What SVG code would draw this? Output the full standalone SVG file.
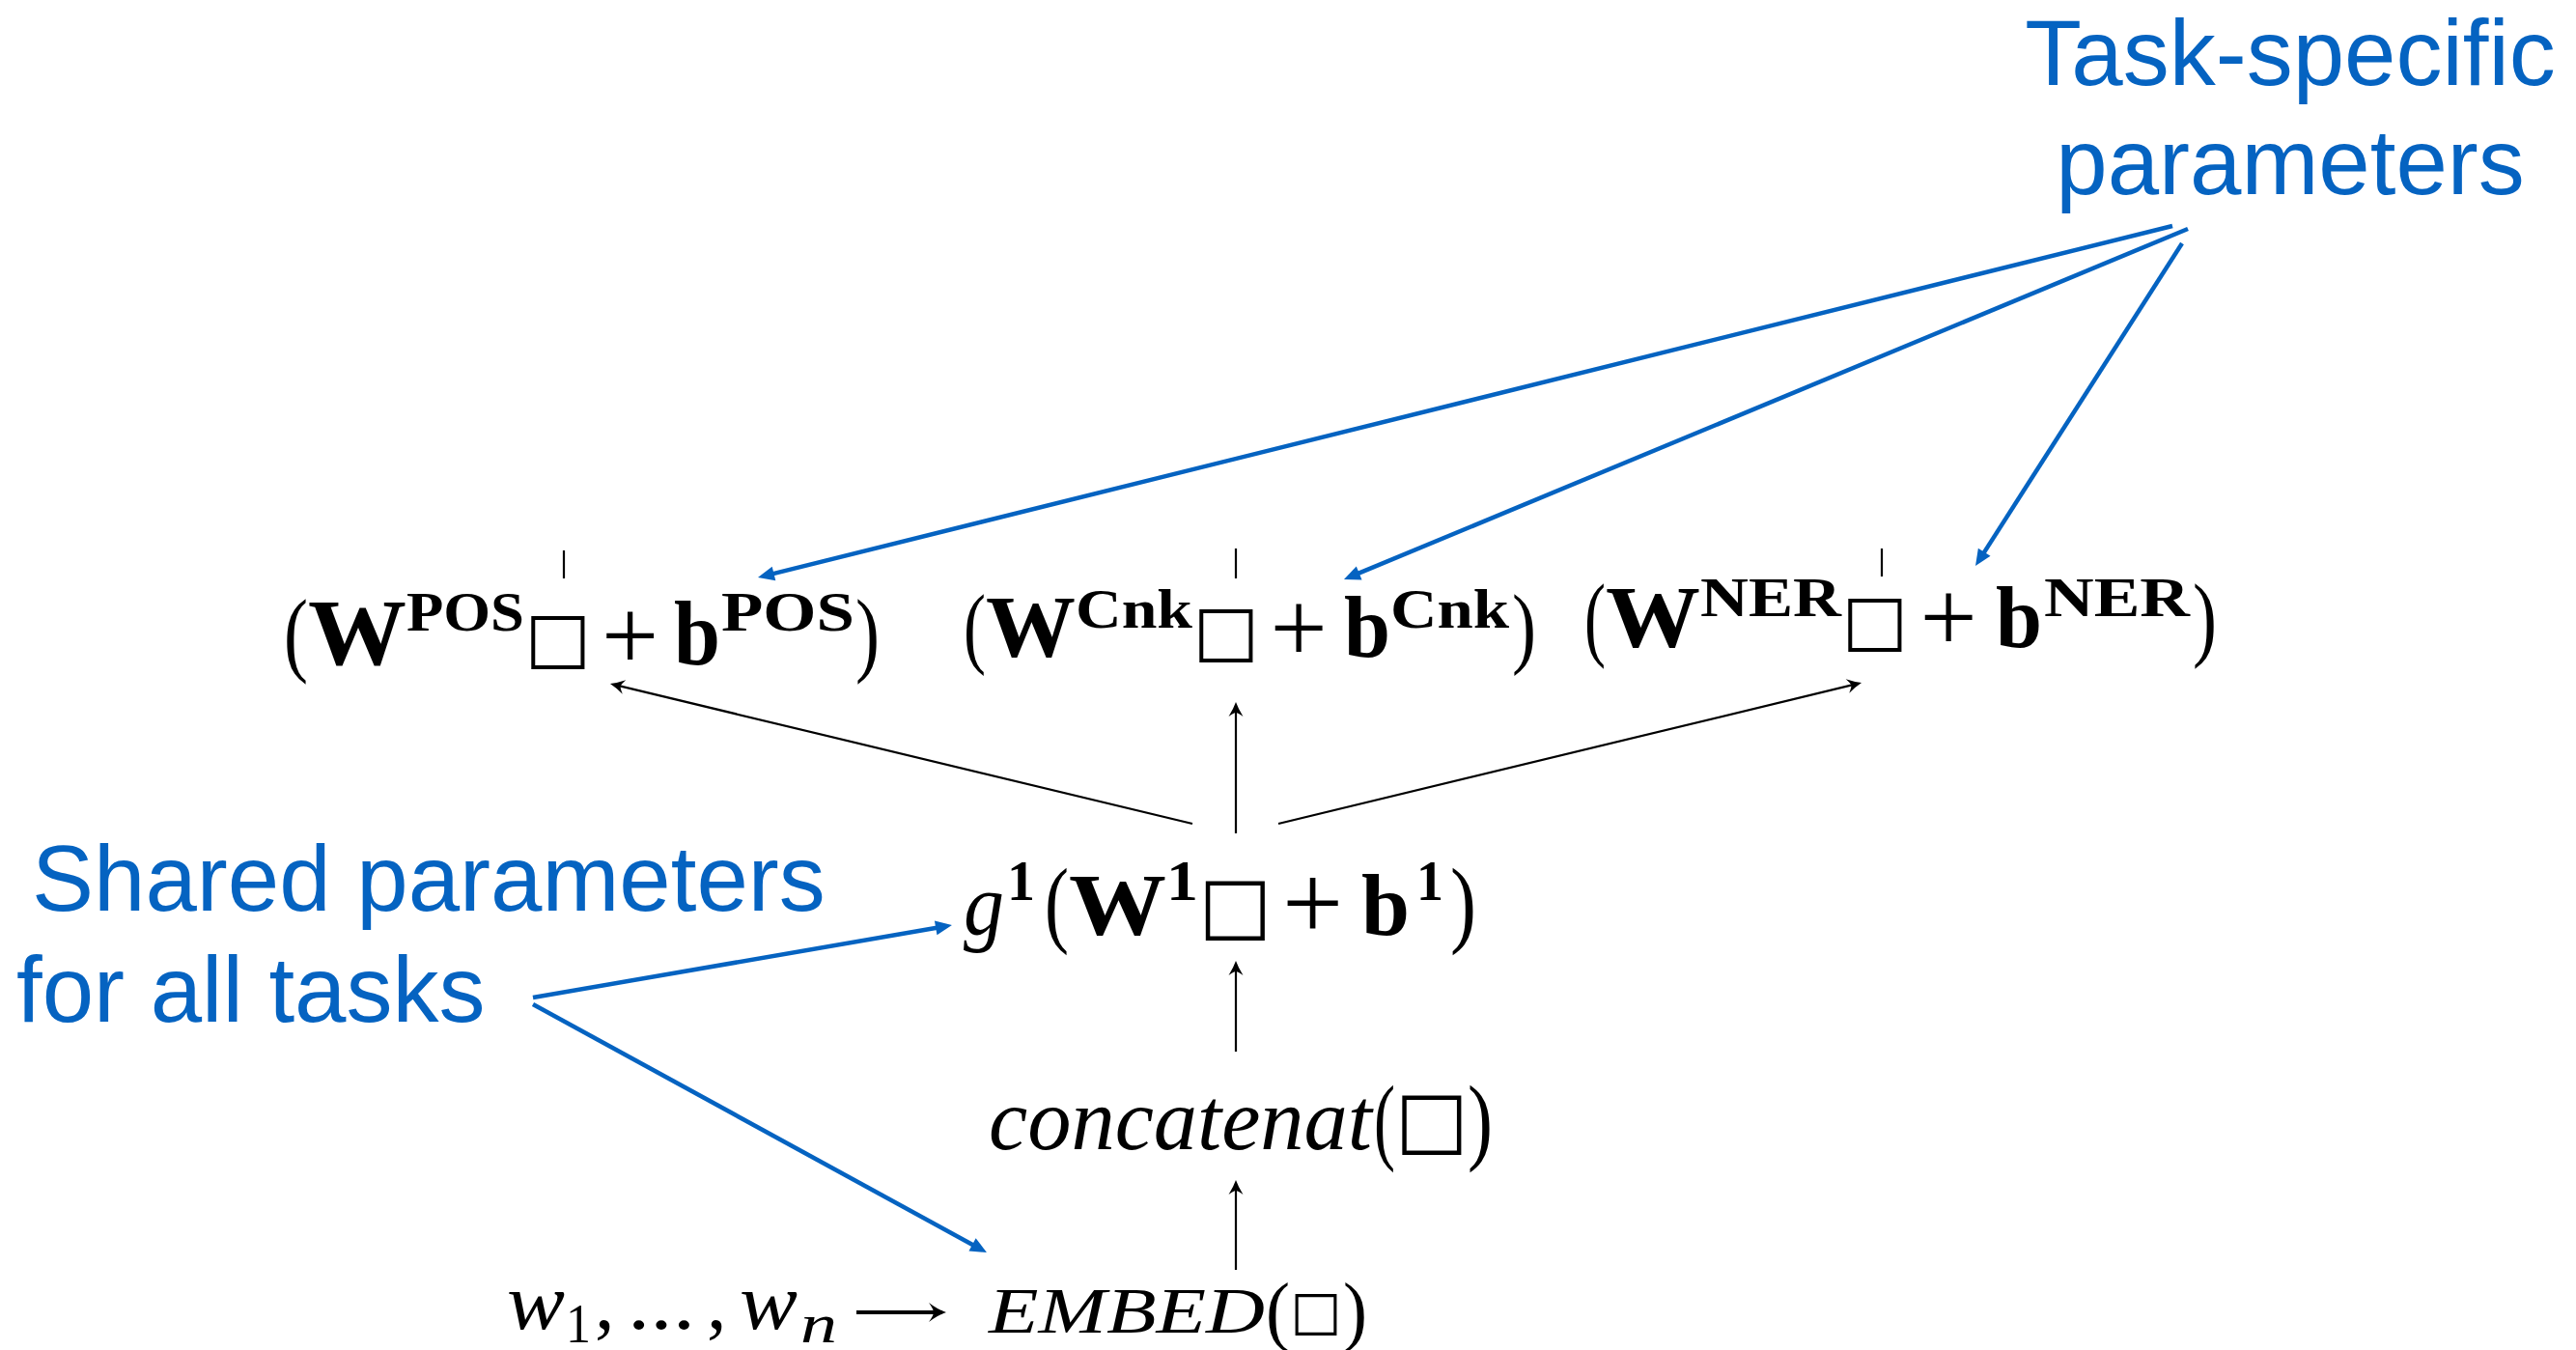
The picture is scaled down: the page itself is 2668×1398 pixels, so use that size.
<svg xmlns="http://www.w3.org/2000/svg" width="2668" height="1398" viewBox="0 0 2668 1398">
<style>
.lbl{font-family:"Liberation Sans",Arial,sans-serif;font-size:96px;fill:#0563C1}
.m{font-family:"Liberation Serif","Times New Roman",serif;fill:#000}
.b{font-weight:bold}
.i{font-style:italic}
.bx{font-family:"DejaVu Sans",sans-serif;text-anchor:middle}
.pl{text-anchor:middle}
.blk{stroke:#000;stroke-width:2.2;fill:none}
.blu{stroke:#0563C1;stroke-width:4.5;fill:none}
.tick{stroke:#000;stroke-width:2.2}
</style>
<defs>
<marker id="ahk" viewBox="-22 -9 24 18" refX="-6" refY="0" markerWidth="24" markerHeight="18" markerUnits="userSpaceOnUse" orient="auto">
<path d="M0,0 Q-7,-2.5 -15,-7.5 Q-11,-2 -11,0 Q-11,2 -15,7.5 Q-7,2.5 0,0 Z" fill="#000"/>
</marker>
<marker id="ahk2" viewBox="-22 -12 24 24" refX="-4" refY="0" markerWidth="24" markerHeight="24" markerUnits="userSpaceOnUse" orient="auto">
<path d="M0,0 Q-9,-3 -18,-10 Q-13,-3 -13,0 Q-13,3 -18,10 Q-9,3 0,0 Z" fill="#000"/>
</marker>
<marker id="ahb" viewBox="-30 -9 32 18" refX="-10" refY="0" markerWidth="32" markerHeight="18" markerUnits="userSpaceOnUse" orient="auto">
<path d="M0,0 L-17,-7.5 L-17,7.5 Z" fill="#0563C1"/>
</marker>
</defs>
<rect width="2668" height="1398" fill="#fff"/>

<g id="label-task">
<text class="lbl" x="2372" y="88" text-anchor="middle">Task-specific</text>
<text class="lbl" x="2372" y="201" text-anchor="middle">parameters</text>
</g>

<g id="label-shared">
<text class="lbl" x="33" y="943">Shared parameters</text>
<text class="lbl" x="17" y="1058">for all tasks</text>
</g>

<g id="node-pos">
<line class="tick" x1="584" y1="570" x2="584" y2="599"/>
<text class="m"><tspan x="294" y="688" font-size="97" textLength="25" lengthAdjust="spacingAndGlyphs">(</tspan><tspan class="b" x="319" y="688" font-size="98" textLength="102" lengthAdjust="spacingAndGlyphs">W</tspan><tspan class="b" x="421" y="653" font-size="56" textLength="122" lengthAdjust="spacingAndGlyphs">POS</tspan><tspan class="bx" x="577.5" y="684" font-size="72">□</tspan><tspan class="pl" x="652.5" y="694" font-size="105">+</tspan><tspan class="b" x="698" y="688" font-size="95" textLength="48" lengthAdjust="spacingAndGlyphs">b</tspan><tspan class="b" x="747" y="653" font-size="56" textLength="138" lengthAdjust="spacingAndGlyphs">POS</tspan><tspan x="886" y="688" font-size="97" textLength="25" lengthAdjust="spacingAndGlyphs">)</tspan></text>
</g>

<g id="node-cnk">
<line class="tick" x1="1280" y1="568" x2="1280" y2="599"/>
<text class="m"><tspan x="998" y="680" font-size="94" textLength="23" lengthAdjust="spacingAndGlyphs">(</tspan><tspan class="b" x="1021" y="680" font-size="92" textLength="93" lengthAdjust="spacingAndGlyphs">W</tspan><tspan class="b" x="1114" y="650" font-size="58" textLength="121" lengthAdjust="spacingAndGlyphs">Cnk</tspan><tspan class="bx" x="1269.5" y="677" font-size="72">□</tspan><tspan class="pl" x="1345" y="686" font-size="105">+</tspan><tspan class="b" x="1392" y="680" font-size="92" textLength="48" lengthAdjust="spacingAndGlyphs">b</tspan><tspan class="b" x="1440" y="650" font-size="58" textLength="123" lengthAdjust="spacingAndGlyphs">Cnk</tspan><tspan x="1566" y="680" font-size="94" textLength="25" lengthAdjust="spacingAndGlyphs">)</tspan></text>
</g>

<g id="node-ner">
<line class="tick" x1="1949" y1="568" x2="1949" y2="597"/>
<text class="m"><tspan x="1641" y="672" font-size="97" textLength="22" lengthAdjust="spacingAndGlyphs">(</tspan><tspan class="b" x="1663" y="670" font-size="90" textLength="98" lengthAdjust="spacingAndGlyphs">W</tspan><tspan class="b" x="1761" y="638" font-size="56" textLength="146" lengthAdjust="spacingAndGlyphs">NER</tspan><tspan class="bx" x="1941.5" y="666" font-size="72">□</tspan><tspan class="pl" x="2018" y="675" font-size="105">+</tspan><tspan class="b" x="2067" y="670" font-size="90" textLength="48" lengthAdjust="spacingAndGlyphs">b</tspan><tspan class="b" x="2117" y="638" font-size="56" textLength="151" lengthAdjust="spacingAndGlyphs">NER</tspan><tspan x="2271" y="672" font-size="97" textLength="25" lengthAdjust="spacingAndGlyphs">)</tspan></text>
</g>

<g id="node-g1">
<text class="m"><tspan class="i" x="998" y="968" font-size="92" textLength="42" lengthAdjust="spacingAndGlyphs">g</tspan><tspan class="b" x="1043" y="932" font-size="60" textLength="29" lengthAdjust="spacingAndGlyphs">1</tspan><tspan x="1082" y="968" font-size="100" textLength="25" lengthAdjust="spacingAndGlyphs">(</tspan><tspan class="b" x="1107" y="968" font-size="92" textLength="101" lengthAdjust="spacingAndGlyphs">W</tspan><tspan class="b" x="1208" y="932" font-size="60" textLength="33" lengthAdjust="spacingAndGlyphs">1</tspan><tspan class="bx" x="1279.5" y="964" font-size="80">□</tspan><tspan class="pl" x="1359.5" y="973" font-size="112">+</tspan><tspan class="b" x="1410" y="968" font-size="92" textLength="50" lengthAdjust="spacingAndGlyphs">b</tspan><tspan class="b" x="1467" y="932" font-size="60" textLength="28" lengthAdjust="spacingAndGlyphs">1</tspan><tspan x="1502" y="968" font-size="100" textLength="27" lengthAdjust="spacingAndGlyphs">)</tspan></text>
</g>

<g id="node-concat">
<text class="m"><tspan class="i" x="1024" y="1190" font-size="90" textLength="397" lengthAdjust="spacingAndGlyphs">concatenat</tspan><tspan x="1423" y="1193" font-size="100" textLength="22" lengthAdjust="spacingAndGlyphs">(</tspan><tspan class="bx" x="1483" y="1186" font-size="80">□</tspan><tspan x="1520" y="1193" font-size="100" textLength="26" lengthAdjust="spacingAndGlyphs">)</tspan></text>
</g>

<g id="node-embed">
<text class="m"><tspan class="i" x="1024" y="1380" font-size="68" textLength="286" lengthAdjust="spacingAndGlyphs">EMBED</tspan><tspan x="1311" y="1384" font-size="80" textLength="25" lengthAdjust="spacingAndGlyphs">(</tspan><tspan class="bx" x="1363" y="1376" font-size="56">□</tspan><tspan x="1391" y="1384" font-size="80" textLength="25" lengthAdjust="spacingAndGlyphs">)</tspan></text>
</g>

<g id="node-words">
<text class="m"><tspan class="i" x="525" y="1376" font-size="82" textLength="60" lengthAdjust="spacingAndGlyphs">w</tspan><tspan x="586" y="1390" font-size="58" textLength="26" lengthAdjust="spacingAndGlyphs">1</tspan><tspan x="616" y="1376" font-size="82">,</tspan><tspan x="650" y="1376" font-size="82" textLength="70" lengthAdjust="spacingAndGlyphs">...</tspan><tspan x="732" y="1376" font-size="82">,</tspan><tspan class="i" x="766" y="1376" font-size="82" textLength="60" lengthAdjust="spacingAndGlyphs">w</tspan><tspan class="i" x="829" y="1390" font-size="58" textLength="38" lengthAdjust="spacingAndGlyphs">n</tspan></text>
</g>

<g id="connectors">
<line class="blk" x1="1235" y1="853" x2="637.8" y2="709.4" marker-end="url(#ahk)"/>
<line class="blk" x1="1280" y1="863" x2="1280" y2="733" marker-end="url(#ahk)"/>
<line class="blk" x1="1324" y1="853" x2="1922.2" y2="708.4" marker-end="url(#ahk)"/>
<line class="blk" x1="1280" y1="1089" x2="1280" y2="1001" marker-end="url(#ahk)"/>
<line class="blk" x1="1280" y1="1315" x2="1280" y2="1228" marker-end="url(#ahk)"/>
<line x1="887" y1="1359" x2="976" y2="1359" stroke="#000" stroke-width="4" marker-end="url(#ahk2)"/>
<line class="blu" x1="2250" y1="234" x2="794.7" y2="595.6" marker-end="url(#ahb)"/>
<line class="blu" x1="2266" y1="237" x2="1401.2" y2="596.2" marker-end="url(#ahb)"/>
<line class="blu" x1="2260" y1="252" x2="2051.4" y2="577.6" marker-end="url(#ahb)"/>
<line class="blu" x1="552" y1="1033" x2="976.1" y2="959.7" marker-end="url(#ahb)"/>
<line class="blu" x1="552" y1="1040" x2="1013.2" y2="1292.2" marker-end="url(#ahb)"/>
</g>
</svg>
